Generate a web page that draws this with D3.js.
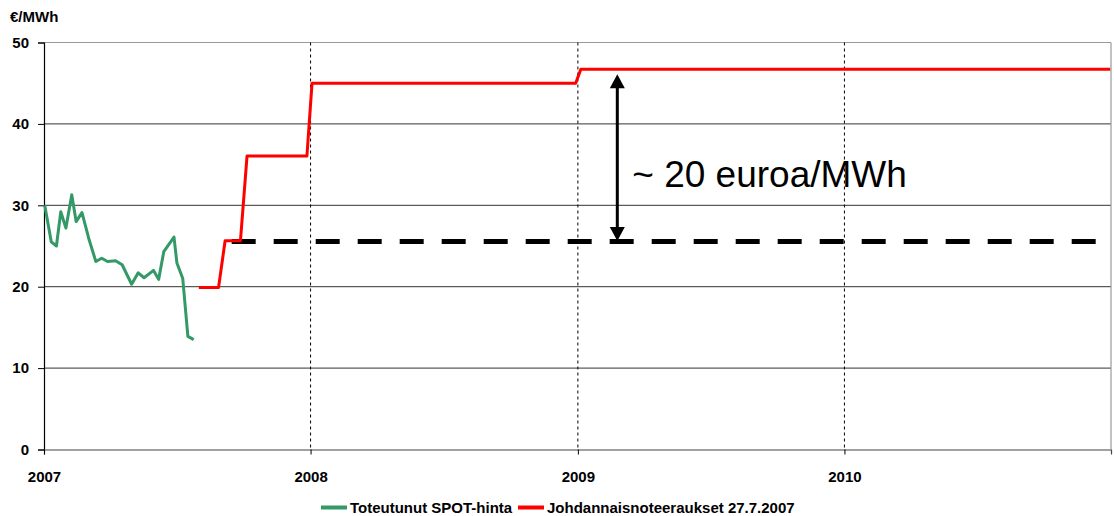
<!DOCTYPE html>
<html>
<head>
<meta charset="utf-8">
<script src="https://cdn.jsdelivr.net/npm/d3@7"></script>
<style>
  body { margin: 0; background: #fff; }
  text { font-family: "Liberation Sans", Arial, sans-serif; }
</style>
</head>
<body>
<div id="chart"></div>
<script>
// realised spot price (weekly)
var spotDates = ["2007-01-02", "2007-01-11", "2007-01-18", "2007-01-24", "2007-01-31", "2007-02-08",
  "2007-02-14", "2007-02-22", "2007-03-04", "2007-03-13", "2007-03-21", "2007-03-29", "2007-04-09",
  "2007-04-18", "2007-05-01", "2007-05-10", "2007-05-18", "2007-05-31", "2007-06-07", "2007-06-14",
  "2007-06-28", "2007-07-02", "2007-07-10", "2007-07-17", "2007-07-25"];
var spotValues = [30.0, 25.5, 25.0, 29.2, 27.2, 31.3, 28.0, 29.1, 25.7, 23.1, 23.5, 23.1, 23.2,
  22.7, 20.3, 21.7, 21.1, 22.0, 20.9, 24.3, 26.1, 22.9, 21.0, 13.9, 13.5];

// forward quotes 27.7.2007
var fwdDates = ["2007-08-01", "2007-08-28", "2007-09-06", "2007-09-27", "2007-10-06", "2007-12-27",
  "2008-01-03", "2008-12-29", "2009-01-05", "2010-12-31"];
var fwdValues = [19.9, 19.9, 25.65, 25.65, 36.05, 36.05, 45.0, 45.0, 46.7, 46.7];

// reference level (dashed) and the gap arrow
var refDates = ["2007-09-15", "2010-12-31"];
var refValues = [25.55, 25.55];
var arrowDate = "2009-02-24";
var arrowFrom = 25.6, arrowTo = 46.1;
var arrowLabel = "~ 20 euroa/MWh";

var yTicks = [0, 10, 20, 30, 40, 50];
var xTicks = ["2007-01-01", "2008-01-01", "2009-01-01", "2010-01-01"];
var seriesNames = ["Toteutunut SPOT-hinta", "Johdannaisnoteeraukset 27.7.2007"];
var seriesColors = ["#339966", "#ff0000"];

var parse = d3.timeParse("%Y-%m-%d");
var w = 1114, h = 516;
var mLeft = 44, mRight = 1111, mTop = 42.5, mBottom = 449.5;

var svg = d3.select("#chart").append("svg").attr("width", w).attr("height", h);

var x = d3.scaleTime().domain([parse("2007-01-01"), parse("2011-01-01")]).range([mLeft, mRight]);
var y = d3.scaleLinear().domain([0, 50]).range([mBottom, mTop]);

// horizontal grid
svg.selectAll("line.hgrid")
  .data(yTicks.filter(d => d > 0 && d < 50))
  .enter().append("line")
  .attr("class", "hgrid")
  .attr("x1", mLeft).attr("x2", mRight)
  .attr("y1", d => y(d)).attr("y2", d => y(d))
  .attr("stroke", "#333").attr("stroke-width", 1);

// plot frame top / right
svg.append("line").attr("x1", mLeft).attr("x2", mRight).attr("y1", y(50)).attr("y2", y(50))
  .attr("stroke", "#999").attr("stroke-width", 1.2);
svg.append("line").attr("x1", mRight).attr("x2", mRight).attr("y1", y(50)).attr("y2", mBottom)
  .attr("stroke", "#999").attr("stroke-width", 1.2);

// vertical dotted year lines
svg.selectAll("line.vgrid")
  .data(xTicks.slice(1))
  .enter().append("line")
  .attr("class", "vgrid")
  .attr("x1", d => x(parse(d))).attr("x2", d => x(parse(d)))
  .attr("y1", y(50)).attr("y2", mBottom)
  .attr("stroke", "#000").attr("stroke-width", 1)
  .attr("stroke-dasharray", "3,3");

// axes
var yAxis = svg.append("g")
  .attr("transform", "translate(" + mLeft + ",0)")
  .call(d3.axisLeft(y).tickValues(yTicks).tickSize(6).tickPadding(9));
var xAxis = svg.append("g")
  .attr("transform", "translate(0," + mBottom + ")")
  .call(d3.axisBottom(x).tickValues(xTicks.map(parse)).tickFormat(d3.timeFormat("%Y")).tickSize(5).tickPadding(17));

[yAxis, xAxis].forEach(function (g) {
  g.select(".domain").attr("stroke", "#000").attr("stroke-width", 1.2);
  g.selectAll(".tick line").attr("stroke", "#000");
  g.selectAll(".tick text")
    .attr("font-family", "Liberation Sans, Arial, sans-serif")
    .attr("font-size", 15).attr("font-weight", "bold").attr("fill", "#000");
});
xAxis.select(".domain").attr("stroke", "#444");

svg.append("text")
  .attr("x", 10).attr("y", 22)
  .attr("font-size", 15).attr("font-weight", "bold")
  .text("€/MWh");

var line = d3.line().x(d => x(d[0])).y(d => y(d[1]));

// dashed reference level
svg.append("path")
  .datum(refDates.map((d, i) => [parse(d), refValues[i]]))
  .attr("d", line)
  .attr("fill", "none").attr("stroke", "#000").attr("stroke-width", 5)
  .attr("stroke-dasharray", "24,18");

svg.append("path")
  .datum(spotDates.map((d, i) => [parse(d), spotValues[i]]))
  .attr("d", line)
  .attr("fill", "none").attr("stroke", seriesColors[0]).attr("stroke-width", 3)
  .attr("stroke-linejoin", "round");

svg.append("path")
  .datum(fwdDates.map((d, i) => [parse(d), fwdValues[i]]))
  .attr("d", line)
  .attr("fill", "none").attr("stroke", seriesColors[1]).attr("stroke-width", 3)
  .attr("stroke-linejoin", "round");

// double headed arrow
var ax = x(parse(arrowDate)), ay1 = y(arrowTo), ay2 = y(arrowFrom);
svg.append("line")
  .attr("x1", ax).attr("x2", ax).attr("y1", ay1 + 10).attr("y2", ay2 - 10)
  .attr("stroke", "#000").attr("stroke-width", 3);
svg.append("path")
  .attr("d", "M" + ax + "," + ay1 + "L" + (ax - 7.5) + "," + (ay1 + 14) + "L" + (ax + 7.5) + "," + (ay1 + 14) + "Z")
  .attr("fill", "#000");
svg.append("path")
  .attr("d", "M" + ax + "," + ay2 + "L" + (ax - 7.5) + "," + (ay2 - 14) + "L" + (ax + 7.5) + "," + (ay2 - 14) + "Z")
  .attr("fill", "#000");
svg.append("text")
  .attr("x", ax + 15).attr("y", 187)
  .attr("font-size", 37)
  .text(arrowLabel);

// legend
var legend = svg.append("g");
var lx = [321, 518];
seriesNames.forEach(function (name, i) {
  legend.append("line")
    .attr("x1", lx[i]).attr("x2", lx[i] + 26).attr("y1", 507.5).attr("y2", 507.5)
    .attr("stroke", seriesColors[i]).attr("stroke-width", 4);
  legend.append("text")
    .attr("x", lx[i] + 29).attr("y", 512.5)
    .attr("font-size", 15).attr("font-weight", "bold")
    .text(name);
});
</script>
</body>
</html>
